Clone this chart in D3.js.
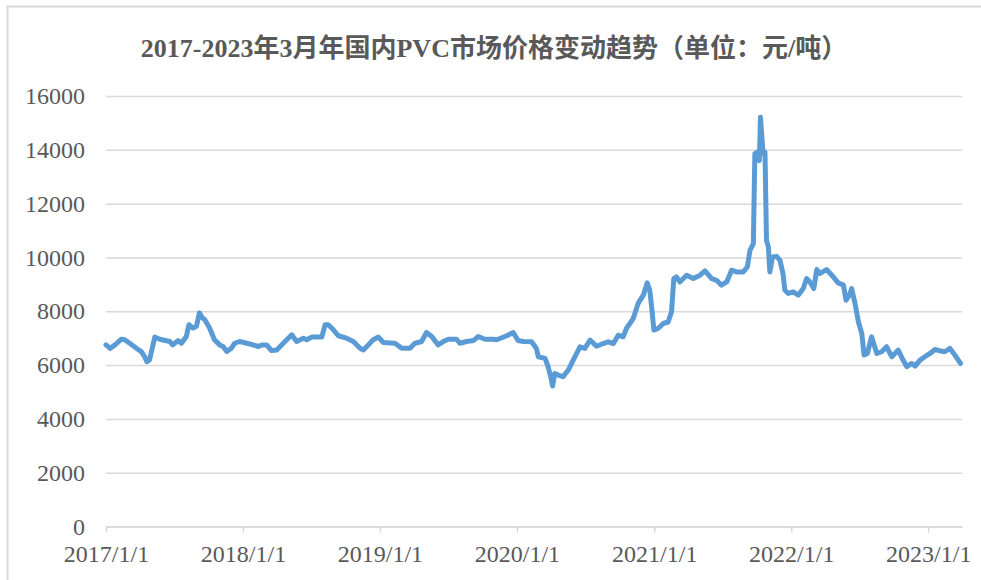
<!DOCTYPE html>
<html>
<head>
<meta charset="utf-8">
<script src="https://cdn.jsdelivr.net/npm/d3@7"></script>
<style>
  body { margin: 0; background: #fff; }
  svg { display: block; }
</style>
</head>
<body>
<script>
// 2017-2023年3月 国内PVC市场价格 (元/吨)
const dates = [
  "2017-01-01","2017-01-12","2017-01-25","2017-02-11","2017-02-20","2017-03-05","2017-03-23","2017-04-05",
  "2017-04-14","2017-04-20","2017-04-27","2017-05-11","2017-05-24","2017-06-20","2017-06-28","2017-07-12",
  "2017-07-21","2017-08-03","2017-08-10","2017-08-21","2017-08-30","2017-09-07","2017-09-15","2017-09-21",
  "2017-10-04","2017-10-17","2017-10-31","2017-11-09","2017-11-19","2017-12-01","2017-12-10","2017-12-23",
  "2018-01-11","2018-01-28","2018-02-11","2018-02-20","2018-03-05","2018-03-18","2018-04-01","2018-04-10",
  "2018-04-23","2018-05-11","2018-05-24","2018-06-11","2018-06-20","2018-07-03","2018-07-30","2018-08-08",
  "2018-08-16","2018-08-30","2018-09-12","2018-10-04","2018-10-22","2018-11-09","2018-11-18","2018-12-01",
  "2018-12-14","2018-12-28",
  "2019-01-10","2019-02-10","2019-02-28","2019-03-22","2019-04-04","2019-04-22","2019-05-05","2019-05-19",
  "2019-06-05","2019-06-19","2019-07-02","2019-07-24","2019-08-02","2019-08-20","2019-09-07","2019-09-20",
  "2019-10-08","2019-10-30","2019-11-08","2019-12-05","2019-12-22",
  "2020-01-04","2020-01-18","2020-02-09","2020-02-22","2020-02-27","2020-03-16","2020-03-24","2020-03-31",
  "2020-04-05","2020-04-11","2020-04-20","2020-05-03","2020-05-17","2020-05-30","2020-06-17","2020-06-30",
  "2020-07-14","2020-07-31","2020-08-18","2020-08-31","2020-09-14","2020-09-27","2020-10-10","2020-10-19",
  "2020-11-06","2020-11-19","2020-12-03","2020-12-13","2020-12-20","2020-12-25","2020-12-31",
  "2021-01-11","2021-01-25","2021-02-07","2021-02-16","2021-02-22","2021-03-01","2021-03-10","2021-03-28",
  "2021-04-15","2021-05-03","2021-05-16","2021-06-03","2021-06-16","2021-06-29","2021-07-13","2021-07-26",
  "2021-08-08","2021-08-26","2021-09-06","2021-09-13","2021-09-22","2021-09-26","2021-10-02","2021-10-08",
  "2021-10-11","2021-10-18","2021-10-23","2021-10-27","2021-11-01","2021-11-05","2021-11-12","2021-11-23",
  "2021-12-02","2021-12-10","2021-12-15","2021-12-24",
  "2022-01-06","2022-01-20","2022-02-02","2022-02-11","2022-02-20","2022-03-02","2022-03-10","2022-03-18",
  "2022-04-05","2022-04-19","2022-05-06","2022-05-20","2022-05-27","2022-06-05","2022-06-11","2022-06-20",
  "2022-06-29","2022-07-08","2022-07-14","2022-07-23","2022-08-03","2022-08-17","2022-08-30","2022-09-12",
  "2022-09-26","2022-10-13","2022-10-26","2022-11-05","2022-11-18","2022-11-27","2022-12-10","2022-12-23",
  "2023-01-06","2023-01-19","2023-02-01","2023-02-14","2023-02-28","2023-03-13","2023-03-28"
]
const prices = [
  6750,6620,6750,6960,6940,6810,6625,6500,
  6310,6125,6190,7040,6960,6875,6750,6910,
  6810,7060,7500,7375,7440,7940,7750,7690,
  7375,6940,6750,6690,6500,6625,6810,6875,
  6810,6750,6690,6750,6750,6540,6560,6690,
  6875,7125,6875,7000,6940,7040,7040,7500,
  7500,7310,7090,7000,6875,6625,6560,6750,
  6940,7040,
  6840,6810,6625,6625,6810,6875,7210,7060,
  6750,6875,6960,6960,6810,6875,6910,7060,
  6960,6960,6940,7090,7210,
  6910,6875,6866,6618,6310,6250,5940,5570,
  5220,5690,5630,5570,5815,6185,6680,6618,
  6930,6700,6800,6866,6800,7110,7050,7360,
  7730,8290,8600,9054,8780,8160,7300,
  7360,7545,7600,7980,9215,9277,9090,9340,
  9215,9340,9500,9215,9150,8970,9090,9525,
  9460,9460,9650,10265,10513,13850,13910,13600,
  15210,13850,13910,10640,10390,9460,10020,10040,
  9895,9400,8780,8660,
  8720,8600,8845,9215,9090,8845,9550,9400,
  9550,9340,9054,8970,8410,8600,8845,8290,
  7600,7175,6370,6430,7050,6430,6495,6680,
  6310,6556,6185,5940,6060,5963,6185,6310,
  6430,6580,6530,6495,6618,6370,6060
]
const yTicks = [0, 2000, 4000, 6000, 8000, 10000, 12000, 14000, 16000]
const xTickLabels = ["2017/1/1", "2018/1/1", "2019/1/1", "2020/1/1", "2021/1/1", "2022/1/1", "2023/1/1"]
const chartTitle = "2017-2023年3月年国内PVC市场价格变动趋势（单位：元/吨）"

const W = 981, H = 580
const plotLeft = 106, plotRight = 962, plotTop = 96, plotBottom = 526.5
const parse = d3.timeParse("%Y-%m-%d")
const parseTick = d3.timeParse("%Y/%m/%d")

const data = dates.map((d, i) => ({ date: parse(d), value: prices[i] }))

const x = d3.scaleTime()
  .domain([parse("2017-01-01"), parse("2023-04-01")])
  .range([plotLeft, plotRight])
const y = d3.scaleLinear().domain([0, 16000]).range([plotBottom, plotTop])

const svg = d3.select("body").append("svg")
  .attr("width", W)
  .attr("height", H)
  .attr("xmlns", "http://www.w3.org/2000/svg")

const grey = "#d9d9d9"
const textColor = "#595959"
const serif = "'Liberation Serif', 'Times New Roman', 'Noto Sans CJK SC', serif"

// outer frame (only left and top edges show in the picture)
svg.append("path")
  .attr("d", `M7.5,${H} V6.5 H${W}`)
  .attr("fill", "none")
  .attr("stroke", grey)
  .attr("stroke-width", 2)

svg.append("text")
  .attr("x", 494)
  .attr("y", 57)
  .attr("text-anchor", "middle")
  .style("font", `bold 26px ${serif}`)
  .attr("fill", textColor)
  .text(chartTitle)

// y axis: gridlines + labels
const yAxis = d3.axisLeft(y)
  .tickValues(yTicks)
  .tickSize(-(plotRight - plotLeft))
  .tickPadding(21)
  .tickFormat(d3.format("d"))

svg.append("g")
  .attr("transform", `translate(${plotLeft},0)`)
  .call(yAxis)
  .call(g => g.select(".domain").remove())
  .call(g => g.selectAll(".tick line").attr("stroke", grey).attr("stroke-width", 1.5))
  .call(g => g.selectAll(".tick text")
    .attr("fill", textColor)
    .style("font", `24px ${serif}`))

// x axis
const xAxis = d3.axisBottom(x)
  .tickValues(xTickLabels.map(t => parseTick(t)))
  .tickSize(6)
  .tickSizeOuter(0)
  .tickPadding(12)
  .tickFormat(d3.timeFormat("%Y/%-m/%-d"))

svg.append("g")
  .attr("transform", `translate(0,${plotBottom})`)
  .call(xAxis)
  .call(g => g.select(".domain").attr("stroke", grey).attr("stroke-width", 1.5))
  .call(g => g.selectAll(".tick line").attr("stroke", grey).attr("stroke-width", 1.5))
  .call(g => g.selectAll(".tick text")
    .attr("fill", textColor)
    .style("font", `24px ${serif}`))

const line = d3.line()
  .x(d => x(d.date))
  .y(d => y(d.value))

svg.append("path")
  .datum(data)
  .attr("fill", "none")
  .attr("stroke", "#5b9bd5")
  .attr("stroke-width", 5)
  .attr("stroke-linejoin", "round")
  .attr("stroke-linecap", "round")
  .attr("d", line)
</script>
</body>
</html>
